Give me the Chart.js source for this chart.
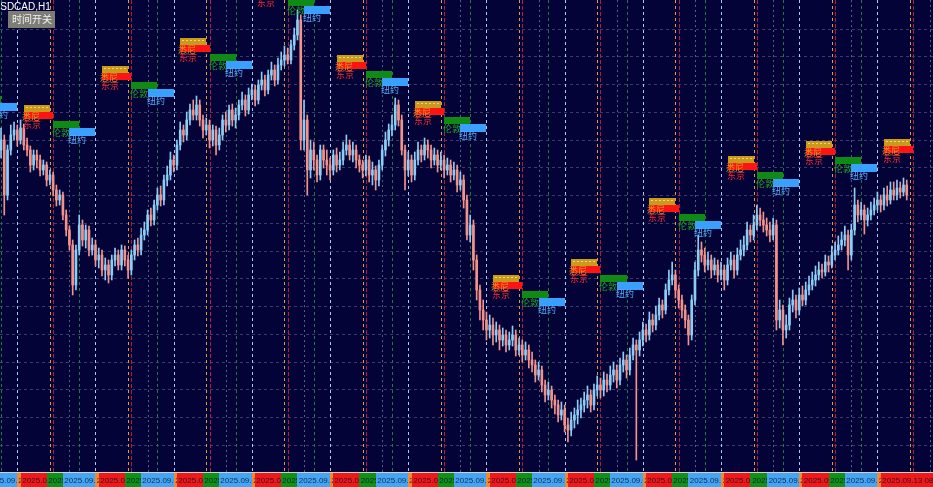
<!DOCTYPE html>
<html>
<head>
<meta charset="utf-8">
<title>USDCAD,H1</title>
<script src="https://cdn.jsdelivr.net/npm/chart.js@4.4.1/dist/chart.umd.min.js"></script>
<style>
  html, body { margin: 0; padding: 0; background: #030338; }
  #chart { display: block; }
</style>
</head>
<body>
<canvas id="chart" width="933" height="487"></canvas>
<script>
// USDCAD H1 candles, one entry per hour
const opens = [1.3850,1.3860,1.3805,1.3850,1.3865,1.3870,1.3860,1.3872,1.3855,1.3850,1.3835,1.3845,1.3840,1.3830,1.3835,1.3820,1.3825,1.3810,1.3800,1.3805,1.3785,1.3770,1.3755,1.3715,1.3750,1.3775,1.3760,1.3770,1.3750,1.3755,1.3740,1.3745,1.3730,1.3735,1.3725,1.3740,1.3745,1.3735,1.3750,1.3740,1.3730,1.3745,1.3755,1.3750,1.3765,1.3770,1.3785,1.3780,1.3795,1.3805,1.3800,1.3820,1.3825,1.3840,1.3835,1.3855,1.3870,1.3865,1.3880,1.3890,1.3885,1.3895,1.3880,1.3870,1.3875,1.3860,1.3870,1.3855,1.3865,1.3880,1.3875,1.3890,1.3880,1.3885,1.3895,1.3900,1.3890,1.3905,1.3910,1.3900,1.3915,1.3920,1.3910,1.3925,1.3930,1.3920,1.3935,1.3940,1.3945,1.3940,1.3955,1.3965,1.3980,1.3860,1.3880,1.3830,1.3850,1.3840,1.3825,1.3850,1.3840,1.3835,1.3830,1.3845,1.3835,1.3840,1.3850,1.3855,1.3845,1.3850,1.3840,1.3835,1.3830,1.3840,1.3825,1.3830,1.3820,1.3835,1.3850,1.3860,1.3870,1.3875,1.3895,1.3880,1.3850,1.3830,1.3840,1.3825,1.3840,1.3850,1.3845,1.3855,1.3850,1.3840,1.3845,1.3835,1.3840,1.3830,1.3835,1.3825,1.3830,1.3815,1.3820,1.3800,1.3765,1.3775,1.3740,1.3710,1.3690,1.3680,1.3670,1.3675,1.3665,1.3670,1.3660,1.3665,1.3655,1.3660,1.3665,1.3650,1.3655,1.3645,1.3650,1.3640,1.3635,1.3625,1.3630,1.3615,1.3605,1.3610,1.3600,1.3595,1.3585,1.3590,1.3575,1.3570,1.3580,1.3585,1.3590,1.3595,1.3600,1.3605,1.3595,1.3610,1.3615,1.3610,1.3620,1.3615,1.3625,1.3630,1.3620,1.3635,1.3640,1.3630,1.3645,1.3655,1.3650,1.3660,1.3670,1.3665,1.3680,1.3675,1.3685,1.3695,1.3690,1.3710,1.3720,1.3725,1.3710,1.3700,1.3690,1.3680,1.3665,1.3700,1.3730,1.3750,1.3745,1.3735,1.3740,1.3730,1.3735,1.3725,1.3730,1.3720,1.3735,1.3740,1.3730,1.3745,1.3750,1.3755,1.3770,1.3765,1.3775,1.3785,1.3780,1.3775,1.3770,1.3765,1.3775,1.3680,1.3690,1.3670,1.3675,1.3695,1.3700,1.3690,1.3705,1.3700,1.3710,1.3715,1.3720,1.3725,1.3730,1.3728,1.3738,1.3735,1.3745,1.3750,1.3755,1.3760,1.3765,1.3745,1.3770,1.3795,1.3785,1.3790,1.3780,1.3785,1.3790,1.3795,1.3800,1.3795,1.3805,1.3800,1.3810,1.3805,1.3812,1.3808,1.3815];
const highs = [1.3872,1.3865,1.3855,1.3875,1.3878,1.3875,1.3880,1.3876,1.3862,1.3854,1.3850,1.3850,1.3845,1.3840,1.3838,1.3830,1.3828,1.3815,1.3810,1.3808,1.3790,1.3774,1.3760,1.3755,1.3785,1.3780,1.3775,1.3774,1.3762,1.3760,1.3752,1.3750,1.3742,1.3740,1.3745,1.3752,1.3750,1.3755,1.3754,1.3745,1.3750,1.3760,1.3762,1.3772,1.3778,1.3790,1.3792,1.3800,1.3812,1.3814,1.3825,1.3834,1.3848,1.3845,1.3860,1.3878,1.3875,1.3888,1.3896,1.3900,1.3904,1.3900,1.3885,1.3882,1.3880,1.3875,1.3874,1.3872,1.3885,1.3888,1.3895,1.3896,1.3892,1.3900,1.3908,1.3905,1.3912,1.3916,1.3915,1.3920,1.3928,1.3925,1.3930,1.3938,1.3935,1.3942,1.3948,1.3954,1.3952,1.3960,1.3972,1.3990,1.3985,1.3900,1.3885,1.3860,1.3858,1.3845,1.3855,1.3855,1.3850,1.3842,1.3850,1.3852,1.3848,1.3858,1.3865,1.3860,1.3858,1.3855,1.3845,1.3840,1.3845,1.3844,1.3838,1.3834,1.3840,1.3855,1.3868,1.3876,1.3885,1.3902,1.3900,1.3885,1.3855,1.3848,1.3845,1.3848,1.3858,1.3855,1.3862,1.3860,1.3855,1.3852,1.3850,1.3848,1.3845,1.3842,1.3840,1.3838,1.3835,1.3828,1.3825,1.3805,1.3785,1.3780,1.3745,1.3715,1.3700,1.3688,1.3685,1.3682,1.3678,1.3675,1.3672,1.3670,1.3668,1.3674,1.3670,1.3662,1.3660,1.3658,1.3655,1.3648,1.3640,1.3638,1.3634,1.3620,1.3618,1.3614,1.3605,1.3600,1.3598,1.3595,1.3582,1.3588,1.3592,1.3600,1.3602,1.3608,1.3614,1.3610,1.3616,1.3624,1.3622,1.3628,1.3626,1.3634,1.3638,1.3635,1.3642,1.3648,1.3645,1.3652,1.3662,1.3660,1.3668,1.3678,1.3676,1.3688,1.3686,1.3694,1.3702,1.3700,1.3716,1.3730,1.3738,1.3730,1.3715,1.3705,1.3695,1.3685,1.3705,1.3738,1.3765,1.3758,1.3752,1.3748,1.3745,1.3742,1.3740,1.3738,1.3735,1.3742,1.3748,1.3745,1.3752,1.3760,1.3764,1.3778,1.3775,1.3785,1.3795,1.3792,1.3788,1.3782,1.3778,1.3782,1.3780,1.3700,1.3695,1.3685,1.3702,1.3710,1.3705,1.3712,1.3714,1.3718,1.3724,1.3728,1.3734,1.3738,1.3736,1.3745,1.3744,1.3754,1.3758,1.3764,1.3768,1.3774,1.3770,1.3776,1.3812,1.3800,1.3798,1.3795,1.3792,1.3798,1.3802,1.3808,1.3805,1.3812,1.3814,1.3818,1.3818,1.3820,1.3818,1.3822,1.3820];
const lows = [1.3842,1.3785,1.3800,1.3845,1.3860,1.3854,1.3856,1.3850,1.3844,1.3828,1.3830,1.3832,1.3824,1.3825,1.3814,1.3815,1.3804,1.3794,1.3795,1.3780,1.3764,1.3750,1.3705,1.3710,1.3745,1.3754,1.3752,1.3744,1.3745,1.3734,1.3732,1.3724,1.3720,1.3717,1.3720,1.3734,1.3730,1.3730,1.3734,1.3722,1.3725,1.3740,1.3744,1.3745,1.3760,1.3765,1.3774,1.3775,1.3790,1.3794,1.3795,1.3814,1.3820,1.3828,1.3830,1.3850,1.3858,1.3860,1.3875,1.3880,1.3880,1.3874,1.3862,1.3865,1.3852,1.3854,1.3845,1.3850,1.3860,1.3868,1.3870,1.3874,1.3872,1.3880,1.3890,1.3884,1.3886,1.3900,1.3894,1.3896,1.3910,1.3904,1.3906,1.3920,1.3914,1.3916,1.3930,1.3934,1.3936,1.3936,1.3950,1.3960,1.3850,1.3850,1.3805,1.3822,1.3830,1.3818,1.3820,1.3832,1.3825,1.3820,1.3825,1.3828,1.3830,1.3835,1.3845,1.3840,1.3838,1.3832,1.3828,1.3822,1.3824,1.3818,1.3815,1.3810,1.3814,1.3830,1.3844,1.3854,1.3864,1.3870,1.3874,1.3845,1.3810,1.3824,1.3818,1.3820,1.3835,1.3838,1.3840,1.3842,1.3832,1.3835,1.3828,1.3830,1.3822,1.3825,1.3818,1.3820,1.3808,1.3810,1.3792,1.3760,1.3758,1.3730,1.3700,1.3680,1.3670,1.3660,1.3662,1.3655,1.3658,1.3650,1.3654,1.3648,1.3650,1.3654,1.3644,1.3645,1.3638,1.3640,1.3632,1.3628,1.3618,1.3620,1.3608,1.3598,1.3600,1.3592,1.3586,1.3578,1.3580,1.3568,1.3558,1.3564,1.3572,1.3576,1.3582,1.3588,1.3592,1.3588,1.3590,1.3604,1.3602,1.3604,1.3608,1.3610,1.3618,1.3612,1.3615,1.3628,1.3622,1.3625,1.3640,1.3540,1.3644,1.3654,1.3658,1.3660,1.3668,1.3670,1.3680,1.3682,1.3686,1.3705,1.3715,1.3702,1.3692,1.3682,1.3672,1.3655,1.3660,1.3695,1.3724,1.3738,1.3728,1.3730,1.3722,1.3725,1.3718,1.3720,1.3710,1.3715,1.3730,1.3722,1.3725,1.3740,1.3744,1.3750,1.3758,1.3760,1.3770,1.3774,1.3768,1.3764,1.3758,1.3760,1.3670,1.3672,1.3655,1.3662,1.3670,1.3688,1.3682,1.3685,1.3694,1.3695,1.3705,1.3710,1.3714,1.3720,1.3722,1.3724,1.3728,1.3732,1.3740,1.3745,1.3750,1.3754,1.3730,1.3740,1.3765,1.3778,1.3780,1.3766,1.3774,1.3780,1.3785,1.3790,1.3788,1.3790,1.3794,1.3796,1.3800,1.3800,1.3802,1.3804,1.3800];
const closes = [1.3860,1.3805,1.3850,1.3865,1.3870,1.3860,1.3872,1.3855,1.3850,1.3835,1.3845,1.3840,1.3830,1.3835,1.3820,1.3825,1.3810,1.3800,1.3805,1.3785,1.3770,1.3755,1.3715,1.3750,1.3775,1.3760,1.3770,1.3750,1.3755,1.3740,1.3745,1.3730,1.3735,1.3725,1.3740,1.3745,1.3735,1.3750,1.3740,1.3730,1.3745,1.3755,1.3750,1.3765,1.3770,1.3785,1.3780,1.3795,1.3805,1.3800,1.3820,1.3825,1.3840,1.3835,1.3855,1.3870,1.3865,1.3880,1.3890,1.3885,1.3895,1.3880,1.3870,1.3875,1.3860,1.3870,1.3855,1.3865,1.3880,1.3875,1.3890,1.3880,1.3885,1.3895,1.3900,1.3890,1.3905,1.3910,1.3900,1.3915,1.3920,1.3910,1.3925,1.3930,1.3920,1.3935,1.3940,1.3945,1.3940,1.3955,1.3965,1.3980,1.3860,1.3880,1.3830,1.3850,1.3840,1.3825,1.3850,1.3840,1.3835,1.3830,1.3845,1.3835,1.3840,1.3850,1.3855,1.3845,1.3850,1.3840,1.3835,1.3830,1.3840,1.3825,1.3830,1.3820,1.3835,1.3850,1.3860,1.3870,1.3875,1.3895,1.3880,1.3850,1.3830,1.3840,1.3825,1.3840,1.3850,1.3845,1.3855,1.3850,1.3840,1.3845,1.3835,1.3840,1.3830,1.3835,1.3825,1.3830,1.3815,1.3820,1.3800,1.3765,1.3775,1.3740,1.3710,1.3690,1.3680,1.3670,1.3675,1.3665,1.3670,1.3660,1.3665,1.3655,1.3660,1.3665,1.3650,1.3655,1.3645,1.3650,1.3640,1.3635,1.3625,1.3630,1.3615,1.3605,1.3610,1.3600,1.3595,1.3585,1.3590,1.3575,1.3570,1.3580,1.3585,1.3590,1.3595,1.3600,1.3605,1.3595,1.3610,1.3615,1.3610,1.3620,1.3615,1.3625,1.3630,1.3620,1.3635,1.3640,1.3630,1.3645,1.3655,1.3650,1.3660,1.3670,1.3665,1.3680,1.3675,1.3685,1.3695,1.3690,1.3710,1.3720,1.3725,1.3710,1.3700,1.3690,1.3680,1.3665,1.3700,1.3730,1.3750,1.3745,1.3735,1.3740,1.3730,1.3735,1.3725,1.3730,1.3720,1.3735,1.3740,1.3730,1.3745,1.3750,1.3755,1.3770,1.3765,1.3775,1.3785,1.3780,1.3775,1.3770,1.3765,1.3775,1.3680,1.3690,1.3670,1.3675,1.3695,1.3700,1.3690,1.3705,1.3700,1.3710,1.3715,1.3720,1.3725,1.3730,1.3728,1.3738,1.3735,1.3745,1.3750,1.3755,1.3760,1.3765,1.3745,1.3770,1.3795,1.3785,1.3790,1.3780,1.3785,1.3790,1.3795,1.3800,1.3795,1.3805,1.3800,1.3810,1.3805,1.3812,1.3808,1.3815,1.3805];

// session markers: candle index of each Sydney open, price level of the label block, date
const dayStarts = [-9, 15, 39, 63, 87, 111, 135, 159, 183, 207, 231, 255, 279];
const labelLevels = [1.3920, 1.3895, 1.3934, 1.3962, 1.4017, 1.3945, 1.3899, 1.3725, 1.3741, 1.3802, 1.3844, 1.3859, 1.3861];
const dayDates = ['2025.09.01', '2025.09.02', '2025.09.03', '2025.09.04', '2025.09.05', '2025.09.06', '2025.09.07', '2025.09.08', '2025.09.09', '2025.09.10', '2025.09.11', '2025.09.12', '2025.09.13'];
const sessionNames = ['悉尼', '东京', '伦敦', '纽约'];
const sessionHours = [0, 1, 9, 14];
const sessionTimes = ['07:00', '08:00', '16:00', '21:00'];
const gridLevels = [1.39713, 1.39435, 1.39158, 1.3888, 1.38603, 1.38325, 1.38048, 1.3777, 1.37493, 1.37215, 1.36938, 1.3666, 1.36383, 1.36105, 1.35828, 1.3555];

const BULL = '#8ccdf4';
const BEAR = '#f4928a';
const lineColors = ['#e39a42', '#b01c3c', '#1d7c3e', '#a9c9f2'];
const boxColors = ['#c99a1c', '#ff1414', '#0f8a14', '#3aa0ff'];
const textColors = ['#d9a520', '#ff2a2a', '#1fa21f', '#5ab0ff'];
const tagColors = ['#f08a30', '#ee1a1a', '#12901a', '#45a5f0'];

const idx = closes.map((c, i) => i);
const candleColor = idx.map(i => (closes[i] >= opens[i] ? BULL : BEAR));
// sessions that opened at or just after the last bar still get marked
const lastMarked = closes.length + 1;

const mt4Plugin = {
  id: 'mt4',
  beforeDraw(chart) {
    const { ctx, width, height } = chart;
    ctx.save();
    ctx.fillStyle = '#030338';
    ctx.fillRect(0, 0, width, height);
    ctx.restore();
  },
  beforeDatasetsDraw(chart) {
    const { ctx, chartArea: a, scales: { x, y } } = chart;
    ctx.save();
    ctx.lineWidth = 1;

    // price grid
    ctx.strokeStyle = '#3b3b68';
    ctx.setLineDash([3, 3]);
    gridLevels.forEach(v => {
      const py = Math.round(y.getPixelForValue(v)) + 0.5;
      ctx.beginPath(); ctx.moveTo(0, py); ctx.lineTo(a.right, py); ctx.stroke();
    });

    // time grid
    ctx.strokeStyle = '#5a5a82';
    ctx.setLineDash([2, 3]);
    dayStarts.forEach(d => {
      const px = Math.round(x.getPixelForValue(d + 6)) + 0.5;
      ctx.beginPath(); ctx.moveTo(px, 0); ctx.lineTo(px, a.bottom + 3); ctx.stroke();
    });

    // session open lines
    dayStarts.forEach(d => {
      sessionHours.forEach((h, k) => {
        if (d + h > lastMarked) return;
        const px = Math.round(x.getPixelForValue(d + h)) + 0.5;
        ctx.strokeStyle = lineColors[k];
        ctx.setLineDash(k === 1 ? [4, 2] : [3, 3]);
        ctx.beginPath(); ctx.moveTo(px, 0); ctx.lineTo(px, a.bottom + 3); ctx.stroke();
      });
    });
    ctx.restore();
  },
  afterDatasetsDraw(chart) {
    const { ctx, chartArea: a, width, height, scales: { x, y } } = chart;
    ctx.save();

    // session label blocks
    const boxSpan = [[-8, 0], [-8, 1], [1, 9], [6, 14]];
    const boxRows = [[0, 7], [7, 14], [16, 23], [23, 31]];
    const textRow = [12, 20, 27.5, 35];
    const textShift = [-2, -1, -1, -1];
    dayStarts.forEach((d, n) => {
      const top = Math.round(y.getPixelForValue(labelLevels[n]));
      boxSpan.forEach((s, k) => {
        if (d + sessionHours[k] > lastMarked) return;
        const x0 = Math.round(x.getPixelForValue(d + s[0]));
        const x1 = Math.round(x.getPixelForValue(d + s[1]));
        ctx.fillStyle = boxColors[k];
        ctx.fillRect(x0, top + boxRows[k][0], x1 - x0, boxRows[k][1] - boxRows[k][0]);
      });
      const gx0 = Math.round(x.getPixelForValue(d - 8));
      const gx1 = Math.round(x.getPixelForValue(d));
      ctx.strokeStyle = '#f3d67a';
      ctx.lineWidth = 1;
      ctx.setLineDash([2, 2]);
      ctx.beginPath(); ctx.moveTo(gx0 + 2, top + 2.5); ctx.lineTo(gx1 - 2, top + 2.5); ctx.stroke();
      ctx.setLineDash([]);
    });
    ctx.font = '9px "Noto Sans CJK SC"';
    ctx.textBaseline = 'middle';
    ctx.textAlign = 'left';
    dayStarts.forEach((d, n) => {
      const top = Math.round(y.getPixelForValue(labelLevels[n]));
      boxSpan.forEach((s, k) => {
        if (d + sessionHours[k] > lastMarked) return;
        const x0 = Math.round(x.getPixelForValue(d + s[0]));
        ctx.fillStyle = textColors[k];
        ctx.fillText(sessionNames[k], x0 + textShift[k], top + textRow[k]);
      });
    });

    // time scale strip with session open times
    const stripTop = a.bottom + 3;
    ctx.fillStyle = '#030338';
    ctx.fillRect(0, stripTop, width, height - stripTop);
    ctx.fillStyle = '#cfcfd8';
    ctx.fillRect(0, stripTop - 1, width, 1);
    ctx.font = '8px "Liberation Sans"';
    ctx.textAlign = 'center';
    dayStarts.forEach((d, n) => {
      sessionHours.forEach((h, k) => {
        if (d + h > lastMarked) return;
        const x0 = Math.round(x.getPixelForValue(d + h - 10));
        const x1 = Math.round(x.getPixelForValue(d + h + 10));
        ctx.fillStyle = tagColors[k];
        ctx.fillRect(x0, stripTop, x1 - x0, height - stripTop);
        ctx.fillStyle = 'rgba(0,0,40,0.75)';
        ctx.fillText(dayDates[n] + ' ' + sessionTimes[k], (x0 + x1) / 2, stripTop + 7.5);
      });
    });

    // symbol caption and button
    ctx.textAlign = 'left';
    ctx.textBaseline = 'alphabetic';
    ctx.fillStyle = '#ffffff';
    ctx.font = '10px "Liberation Sans"';
    ctx.fillText('USDCAD,H1', -7, 10);
    ctx.fillStyle = '#7d7d76';
    ctx.fillRect(8, 11, 47, 17);
    ctx.fillStyle = '#f2f2f2';
    ctx.font = '10px "Noto Sans CJK SC"';
    ctx.textBaseline = 'middle';
    ctx.fillText('时间开关', 12, 19.5);
    ctx.restore();
  }
};

new Chart(document.getElementById('chart'), {
  type: 'bar',
  data: {
    datasets: [
      {
        label: 'wick',
        data: idx.map(i => ({ x: i, y: [lows[i], highs[i]] })),
        backgroundColor: candleColor,
        barThickness: 1,
        grouped: false,
      },
      {
        label: 'body',
        data: idx.map(i => ({ x: i, y: [opens[i], closes[i]] })),
        backgroundColor: candleColor,
        barThickness: 2,
        minBarLength: 1,
        grouped: false,
      },
    ],
  },
  options: {
    responsive: false,
    animation: false,
    events: [],
    layout: { padding: { left: 0, right: 0, top: 0, bottom: 17 } },
    plugins: { legend: { display: false }, tooltip: { enabled: false } },
    scales: {
      x: { type: 'linear', min: -0.31, max: 286.06, offset: false, display: false },
      y: { min: 1.353, max: 1.4, display: false },
    },
  },
  plugins: [mt4Plugin],
});
</script>
</body>
</html>
